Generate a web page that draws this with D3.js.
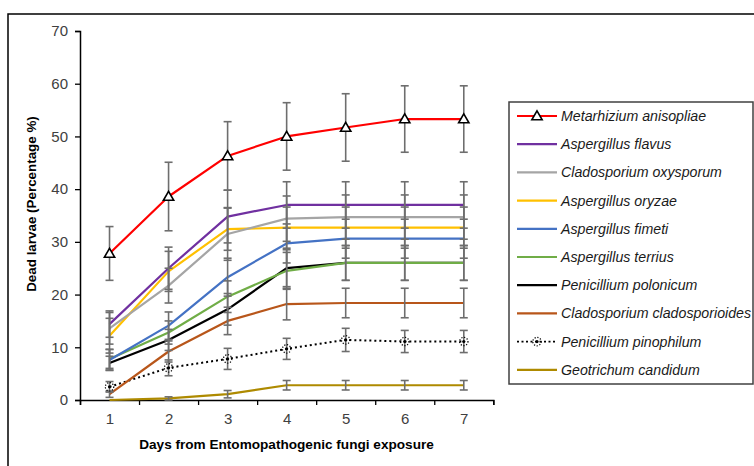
<!DOCTYPE html>
<html><head><meta charset="utf-8">
<script src="https://cdn.jsdelivr.net/npm/d3@7"></script>
<style>html,body{margin:0;padding:0;background:#fff;}svg{display:block;}</style>
</head><body>
<svg id="chart" width="754" height="466"></svg>
<script>
const days = [1, 2, 3, 4, 5, 6, 7];
const yTicks = [0, 10, 20, 30, 40, 50, 60, 70];
const seriesNames = ["Metarhizium anisopliae", "Aspergillus flavus", "Cladosporium oxysporum", "Aspergillus oryzae", "Aspergillus fimeti", "Aspergillus terrius", "Penicillium polonicum", "Cladosporium cladosporioides", "Penicillium pinophilum", "Geotrichum candidum"];
const seriesColors = ["#FF0000", "#7030A0", "#A5A5A5", "#FFC000", "#4472C4", "#70AD47", "#000000", "#B8561A", "#000000", "#AE8A00"];
const metarhizium = [27.8, 38.6, 46.3, 50.0, 51.7, 53.3, 53.3];
const flavus      = [14.4, 25.0, 34.8, 37.0, 37.0, 37.0, 37.0];
const oxysporum   = [13.6, 21.7, 31.5, 34.4, 34.7, 34.7, 34.7];
const oryzae      = [12.2, 24.4, 32.4, 32.7, 32.7, 32.7, 32.7];
const fimeti      = [7.6, 14.1, 23.3, 29.7, 30.6, 30.6, 30.6];
const terrius     = [7.8, 12.8, 19.6, 24.5, 26.0, 26.0, 26.0];
const polonicum   = [7.0, 11.4, 17.2, 25.0, 26.0, 26.0, 26.0];
const cladosporioides = [1.1, 9.2, 15.0, 18.2, 18.4, 18.4, 18.4];
const pinophilum  = [2.5, 6.1, 7.8, 9.7, 11.4, 11.1, 11.1];
const geotrichum  = [0.0, 0.3, 1.1, 2.8, 2.8, 2.8, 2.8];
const errMetarhizium = [5.1, 6.5, 6.5, 6.4, 6.4, 6.3, 6.3];
const errFlavus      = [2.5, 4.0, 5.0, 4.4, 4.4, 4.4, 4.4];
const errOxysporum   = [3.0, 3.3, 5.0, 4.3, 4.2, 4.2, 4.2];
const errOryzae      = [3.3, 3.8, 4.0, 3.9, 3.9, 3.9, 3.9];
const errFimeti      = [2.0, 2.6, 3.6, 3.7, 3.7, 3.7, 3.7];
const errTerrius     = [1.8, 2.2, 3.0, 3.5, 3.3, 3.3, 3.3];
const errPolonicum   = [1.3, 2.0, 3.0, 3.5, 3.3, 3.3, 3.3];
const errCladosporioides = [0.6, 2.0, 2.6, 3.0, 2.8, 2.8, 2.8];
const errPinophilum  = [1.0, 1.5, 2.0, 2.0, 2.2, 2.1, 2.1];
const errGeotrichum  = [0.0, 0.3, 0.7, 0.9, 0.9, 0.9, 0.9];

const seriesValues = [metarhizium, flavus, oxysporum, oryzae, fimeti, terrius, polonicum, cladosporioides, pinophilum, geotrichum];
const seriesErrors = [errMetarhizium, errFlavus, errOxysporum, errOryzae, errFimeti, errTerrius, errPolonicum, errCladosporioides, errPinophilum, errGeotrichum];

const svg = d3.select("#chart");
const font = "'Liberation Sans', Arial, sans-serif";

// outer frame
svg.append("rect").attr("x", 8).attr("y", 14).attr("width", 800).attr("height", 500)
  .attr("fill", "none").attr("stroke", "#000").attr("stroke-width", 1.5);

const x = d3.scaleLinear().domain([0.5, 7.5]).range([80, 493.3]);
const y = d3.scaleLinear().domain([0, 70]).range([400, 31]);

// y axis
const gy = svg.append("g").attr("transform", "translate(80,0)")
  .call(d3.axisLeft(y).tickValues(yTicks).tickSize(5).tickPadding(7));
gy.select(".domain").attr("stroke", "#000").attr("stroke-width", 1.5);
gy.selectAll(".tick line").attr("stroke", "#000").attr("stroke-width", 1.3);
gy.selectAll(".tick text").attr("font-family", font).attr("font-size", 15).attr("fill", "#404040");

// x axis
const gx = svg.append("g").attr("transform", "translate(0,400)")
  .call(d3.axisBottom(x).tickValues(d3.range(0.5, 8, 1)).tickSize(5).tickFormat(""));
gx.select(".domain").attr("stroke", "#000").attr("stroke-width", 1.5);
gx.selectAll(".tick line").attr("stroke", "#000").attr("stroke-width", 1.3);
const gxl = svg.append("g").attr("transform", "translate(0,400)")
  .call(d3.axisBottom(x).tickValues(days).tickSize(0).tickPadding(13).tickFormat(d3.format("d")));
gxl.select(".domain").remove();
gxl.selectAll(".tick text").attr("font-family", font).attr("font-size", 15).attr("fill", "#404040");

// axis titles
svg.append("text").attr("x", 286.5).attr("y", 449).attr("text-anchor", "middle")
  .attr("font-family", font).attr("font-weight", "bold").attr("font-size", 13.6).attr("fill", "#000")
  .text("Days from Entomopathogenic fungi exposure");
svg.append("text").attr("transform", "translate(36,204) rotate(-90)").attr("text-anchor", "middle")
  .attr("font-family", font).attr("font-weight", "bold").attr("font-size", 13.4).attr("fill", "#000")
  .text("Dead larvae (Percentage %)");

const line = d3.line().x((d, i) => x(days[i])).y(d => y(d));
const plot = svg.append("g");

// lines (draw bottom series first so top ones overlay)
for (let s = seriesValues.length - 1; s >= 0; s--) {
  const p = plot.append("path").datum(seriesValues[s]).attr("d", line)
    .attr("fill", "none").attr("stroke", seriesColors[s])
    .attr("stroke-width", s === 8 ? 2 : 2.2).attr("stroke-linejoin", "round");
  if (s === 8) p.attr("stroke-dasharray", "2,3");
}

// error bars
const eb = svg.append("g").attr("stroke", "#6e6e6e").attr("stroke-width", 1.6);
seriesValues.forEach((vals, s) => {
  vals.forEach((v, i) => {
    const e = seriesErrors[s][i];
    if (e <= 0) return;
    const cx = x(days[i]);
    eb.append("line").attr("x1", cx).attr("x2", cx).attr("y1", y(v - e)).attr("y2", y(v + e));
    eb.append("line").attr("x1", cx - 4).attr("x2", cx + 4).attr("y1", y(v + e)).attr("y2", y(v + e));
    eb.append("line").attr("x1", cx - 4).attr("x2", cx + 4).attr("y1", y(v - e)).attr("y2", y(v - e));
  });
});

// markers
const tri = d3.symbol().type(d3.symbolTriangle).size(46);
function starMarker(g, cx, cy) {
  const m = g.append("g").attr("transform", `translate(${cx},${cy})`);
  m.append("circle").attr("r", 4.2).attr("fill", "none").attr("stroke", "#000")
    .attr("stroke-width", 1.2).attr("stroke-dasharray", "1.2,1.6");
  m.append("circle").attr("r", 1.6).attr("fill", "#000");
}
const mk = svg.append("g");
metarhizium.forEach((v, i) => {
  mk.append("path").attr("d", tri).attr("transform", `translate(${x(days[i])},${y(v) + 0.8})`)
    .attr("fill", "#fff").attr("stroke", "#000").attr("stroke-width", 1.6);
});
pinophilum.forEach((v, i) => starMarker(mk, x(days[i]), y(v)));

// legend
const lg = svg.append("g");
lg.append("rect").attr("x", 509).attr("y", 102).attr("width", 244).attr("height", 282)
  .attr("fill", "#fff").attr("stroke", "#404040").attr("stroke-width", 1.5);
seriesNames.forEach((name, s) => {
  const ly = 116 + s * 28.2;
  const l = lg.append("line").attr("x1", 517).attr("x2", 557).attr("y1", ly).attr("y2", ly)
    .attr("stroke", seriesColors[s]).attr("stroke-width", 2.2);
  if (s === 8) l.attr("stroke-dasharray", "2,2.5").attr("stroke-width", 1.8);
  if (s === 0) lg.append("path").attr("d", tri).attr("transform", `translate(537,${ly + 0.8})`)
    .attr("fill", "#fff").attr("stroke", "#000").attr("stroke-width", 1.6);
  if (s === 8) starMarker(lg, 537, ly);
  lg.append("text").attr("x", 561).attr("y", ly + 5).attr("font-family", font)
    .attr("font-style", "italic").attr("font-size", 14.2).attr("fill", "#1a1a1a").text(name);
});
</script>
</body></html>
